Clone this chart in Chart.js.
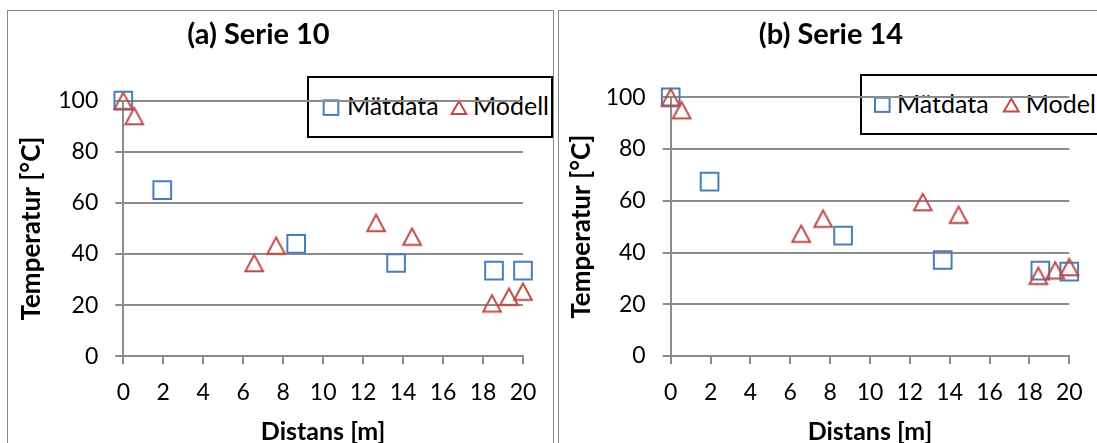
<!DOCTYPE html>
<html>
<head>
<meta charset="utf-8">
<script src="https://cdn.jsdelivr.net/npm/chart.js@4.4.1/dist/chart.umd.min.js"></script>
<style>
html, body { margin: 0; padding: 0; background: #fff; overflow: hidden; width: 1097px; height: 443px; }
canvas { position: absolute; top: 0; }
#overlay { position: absolute; left: 0; top: 0; }
</style>
</head>
<body>
<svg id="overlay" width="1097" height="443" font-family="Lato" font-size="25">
  <rect x="7.5" y="10.5" width="546" height="460" fill="none" stroke="#8a8a8a" stroke-width="1"/>
  <rect x="558.5" y="10.5" width="560" height="460" fill="none" stroke="#8a8a8a" stroke-width="1"/>
  <!-- legend (a) -->
  <rect x="308" y="77" width="244" height="60" fill="#fff" stroke="#000" stroke-width="2"/>
  <rect x="323.7" y="100.3" width="14.6" height="14.6" fill="none" stroke="#4A7EBB" stroke-width="2"/>
  <text x="347" y="115">Mätdata</text>
  <path d="M459 101.2 L451.7 114 L466.3 114 Z" fill="none" stroke="#BE4B48" stroke-width="2"/>
  <text x="473" y="115">Modell</text>
  <!-- legend (b) -->
  <rect x="861" y="75" width="300" height="59" fill="#fff" stroke="#000" stroke-width="2"/>
  <rect x="875" y="97.7" width="14.6" height="14.2" fill="none" stroke="#4A7EBB" stroke-width="2"/>
  <text x="897" y="112.5">Mätdata</text>
  <path d="M1011.3 98.8 L1003.9 111.5 L1018.7 111.5 Z" fill="none" stroke="#BE4B48" stroke-width="2"/>
  <text x="1025.7" y="112.5">Modell</text>
</svg>
<canvas id="chartA" width="559" height="470" style="left:-6px"></canvas>
<canvas id="chartB" width="537" height="470" style="left:560px"></canvas>
<script>
// axis ticks
const xTicks = [0, 2, 4, 6, 8, 10, 12, 14, 16, 18, 20];
const yTicks = [0, 20, 40, 60, 80, 100];

// (a) Serie 10
const distMatA = [0, 1.95, 8.65, 13.65, 18.55, 20];
const tempMatA = [100, 65, 44, 36.5, 33.5, 33.5];
const distModA = [0, 0.55, 6.55, 7.65, 12.65, 14.45, 18.45, 19.3, 20];
const tempModA = [100, 94, 36.5, 43.3, 52.2, 46.8, 20.7, 23.3, 25.3];

// (b) Serie 14
const distMatB = [0, 1.95, 8.65, 13.65, 18.55, 20];
const tempMatB = [100, 67.4, 46.5, 37.1, 33, 32.6];
const distModB = [0, 0.55, 6.55, 7.65, 12.65, 14.45, 18.45, 19.3, 20];
const tempModB = [100, 95, 47.3, 53.1, 59.5, 54.6, 31, 33.1, 34.4];

const blue = '#4A7EBB';
const red = '#BE4B48';
const gridColor = '#8c8c8c';

Chart.defaults.font.family = 'Lato';
Chart.defaults.color = '#000';

// excel-like triangle marker, centred on its bounding box
const tri = document.createElement('canvas');
tri.width = 24; tri.height = 24;
const tctx = tri.getContext('2d');
tctx.strokeStyle = red;
tctx.lineWidth = 2;
tctx.beginPath();
tctx.moveTo(12, 3.85);
tctx.lineTo(3.15, 20.15);
tctx.lineTo(20.85, 20.15);
tctx.closePath();
tctx.stroke();

function pts(xs, ys) {
    return xs.map((x, i) => ({x: x, y: ys[i]}));
}

function makeChart(id, c) {
    return new Chart(document.getElementById(id), {
        type: 'scatter',
        data: {
            datasets: [{
                label: 'Modell',
                data: pts(c.distMod, c.tempMod),
                pointStyle: tri,
                pointRadius: 10,
                order: 0,
                clip: false
            }, {
                label: 'Mätdata',
                data: pts(c.distMat, c.tempMat),
                pointStyle: 'rect',
                pointRadius: 12.5,
                pointBorderWidth: 2,
                pointBorderColor: blue,
                pointBackgroundColor: 'rgba(0,0,0,0)',
                order: 1,
                clip: false
            }]
        },
        options: {
            responsive: false,
            animation: false,
            devicePixelRatio: 1,
            layout: { padding: { left: c.padL, right: c.padR, top: 0, bottom: 0 } },
            plugins: {
                legend: { display: false },
                tooltip: { enabled: false },
                title: {
                    display: true,
                    text: c.title,
                    color: '#000',
                    font: { size: 29, weight: 'bold' },
                    padding: { top: 17.6, bottom: c.titleBottom }
                }
            },
            scales: {
                x: {
                    type: 'linear',
                    min: 0,
                    max: 20,
                    afterBuildTicks: s => { s.ticks = xTicks.map(v => ({value: v})); },
                    afterFit: s => { s.height = 470 - c.bottom; },
                    grid: { drawOnChartArea: false, drawTicks: true, tickLength: 8, color: gridColor, lineWidth: 2 },
                    border: { display: true, color: gridColor, width: 2 },
                    ticks: { font: { size: 23 }, padding: 14.4, color: '#000', maxRotation: 0 },
                    title: { display: true, text: 'Distans [m]', color: '#000', font: { size: 25, weight: 'bold' }, padding: { top: 0, bottom: 23 } }
                },
                y: {
                    type: 'linear',
                    min: 0,
                    max: 100,
                    afterBuildTicks: s => { s.ticks = yTicks.map(v => ({value: v})); },
                    afterFit: s => { s.width = c.yWidth; },
                    grid: { drawTicks: true, tickLength: 8, color: gridColor, lineWidth: 2 },
                    border: { display: true, color: gridColor, width: 2 },
                    ticks: { font: { size: 23 }, padding: 17, color: '#000' },
                    title: { display: true, text: 'Temperatur [°C]', color: '#000', font: { size: 26, weight: 'bold' }, padding: { top: c.yTitlePad, bottom: 0 } }
                }
            }
        }
    });
}

const chartA = makeChart('chartA', {
    title: '(a) Serie 10',
    distMat: distMatA, tempMat: tempMatA, distMod: distModA, tempMod: tempModA,
    padL: 0, padR: 30, yWidth: 129.3, yTitlePad: 22.1, titleBottom: 48.3, bottom: 356.3
});

const chartB = makeChart('chartB', {
    title: '(b) Serie 14',
    distMat: distMatB, tempMat: tempMatB, distMod: distModB, tempMod: tempModB,
    padL: 28, padR: 23, yWidth: 82.7, yTitlePad: -21.6, titleBottom: 44.9, bottom: 356
});
</script>
</body>
</html>
